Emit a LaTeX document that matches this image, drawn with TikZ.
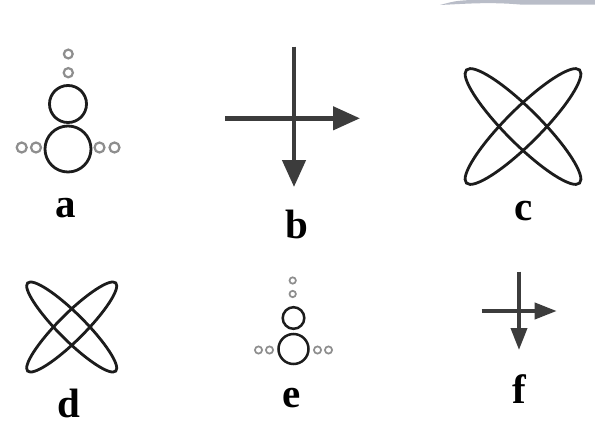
\documentclass[tikz,border=0pt]{standalone}
\usepackage{fontspec}
\setmainfont{Liberation Serif}
\usetikzlibrary{arrows.meta}
\definecolor{ink}{HTML}{1C1C1C}
\definecolor{arrowink}{HTML}{3C3C3C}
\definecolor{smallink}{HTML}{8E8E8E}
\definecolor{band}{HTML}{B9BDC8}
\tikzset{
  bigring/.style={draw=ink, line width=2.8pt},
  smallring/.style={draw=smallink, line width=2.2pt},
  loop/.style={draw=ink, line width=2.8pt},
  bigarrow/.style={draw=arrowink, line width=4.5pt, -{Triangle[length=27pt,width=23pt]}},
  smallarrow/.style={draw=arrowink, line width=3.8pt, -{Triangle[length=22pt,width=16pt]}},
  lab/.style={anchor=base, inner sep=0pt, font=\fontsize{41}{41}\selectfont\bfseries}
}
\begin{document}
\begin{tikzpicture}[x=1pt,y=-1pt]
\useasboundingbox (0,0) rectangle (595,429);
\fill[white] (0,0) rectangle (595,429);
% page band top right
\fill[band] (440,5) .. controls (470,3.5) and (490,2) .. (520,4.5) -- (595,4.5) -- (595,0) -- (470,0) .. controls (455,1) .. (440,5);

% ---- a ----
\coordinate (aT1) at (68.3,54);
\coordinate (aT2) at (68.3,72.7);
\coordinate (aM) at (68,104);
\coordinate (aL) at (68,149);
\draw[smallring] (aT1) circle[radius=4.4pt];
\draw[smallring] (aT2) circle[radius=4.6pt];
\draw[bigring] (aM) circle[radius=18.5pt];
\draw[bigring] (aL) circle[radius=23pt];
\draw[smallring] (21.7,147.5) circle[radius=5pt];
\draw[smallring] (36,147.5) circle[radius=5pt];
\draw[smallring] (99.5,147.5) circle[radius=5pt];
\draw[smallring] (114.5,147.5) circle[radius=5pt];
\node[lab] (la) at (66,217) {a};

% ---- b ----
\coordinate (bV1) at (294,46.7);
\coordinate (bV2) at (294,187);
\coordinate (bH1) at (225,118.3);
\coordinate (bH2) at (360,118.3);
\draw[bigarrow] (bV1) -- (bV2);
\draw[bigarrow] (bH1) -- (bH2);
\node[lab] (lb) at (297,238) {b};

% ---- c ----
\coordinate (cC) at (523,126.5);
\draw[loop] (cC) ellipse[x radius=80pt, y radius=17.4pt, rotate=45];
\draw[loop] (cC) ellipse[x radius=80pt, y radius=17.4pt, rotate=-45];
\node[lab] (lc) at (524,220) {c};

% ---- d ----
\coordinate (dC) at (71.7,327);
\draw[loop] (dC) ellipse[x radius=62.3pt, y radius=13.2pt, rotate=45];
\draw[loop] (dC) ellipse[x radius=62.3pt, y radius=13.2pt, rotate=-45];
\node[lab] (ld) at (69,417) {d};

% ---- e ----
\coordinate (eT1) at (292.7,280.5);
\coordinate (eT2) at (292.7,294);
\coordinate (eM) at (293.5,318);
\coordinate (eL) at (293.5,349);
\draw[smallring, line width=1.7pt] (eT1) circle[radius=3.2pt];
\draw[smallring, line width=1.7pt] (eT2) circle[radius=3.2pt];
\draw[bigring, line width=2.5pt] (eM) circle[radius=10.8pt];
\draw[bigring, line width=2.5pt] (eL) circle[radius=15pt];
\draw[smallring, line width=1.7pt] (258.5,350) circle[radius=3.6pt];
\draw[smallring, line width=1.7pt] (269.5,350) circle[radius=3.6pt];
\draw[smallring, line width=1.7pt] (317.5,350) circle[radius=3.6pt];
\draw[smallring, line width=1.7pt] (328.5,350) circle[radius=3.6pt];
\node[lab] (le) at (292,407) {e};

% ---- f ----
\coordinate (fV1) at (519,271.7);
\coordinate (fV2) at (519,350);
\coordinate (fH1) at (481.7,311);
\coordinate (fH2) at (556.7,311);
\draw[smallarrow] (fV1) -- (fV2);
\draw[smallarrow] (fH1) -- (fH2);
\node[lab] (lf) at (519.5,403) {f};
\end{tikzpicture}
\end{document}
